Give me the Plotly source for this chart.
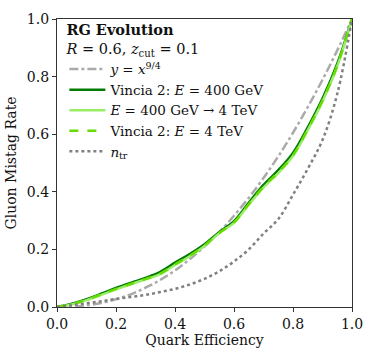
import plotly.graph_objects as go

# quark efficiency grid
eff_q = [0, 0.05, 0.1, 0.15, 0.2, 0.25, 0.3, 0.35, 0.4, 0.45, 0.5,
         0.55, 0.6, 0.65, 0.7, 0.75, 0.8, 0.85, 0.9, 0.95, 1.0]

# y = x^(9/4) reference
mistag_power = [0, 0.0012, 0.0056, 0.014, 0.027, 0.044, 0.067, 0.094, 0.127, 0.166, 0.210,
                0.260, 0.317, 0.379, 0.448, 0.523, 0.605, 0.694, 0.789, 0.891, 1.0]

# Vincia 2, E = 400 GeV
mistag_v400 = [0, 0.011, 0.027, 0.046, 0.066, 0.084, 0.101, 0.122, 0.154, 0.184, 0.218,
               0.260, 0.298, 0.362, 0.424, 0.475, 0.535, 0.624, 0.724, 0.845, 1.0]

# E = 400 GeV -> 4 TeV (RG evolution)
mistag_evol = [0, 0.009, 0.024, 0.042, 0.061, 0.079, 0.096, 0.114, 0.146, 0.176, 0.212,
               0.256, 0.292, 0.355, 0.415, 0.465, 0.524, 0.614, 0.714, 0.836, 1.0]

# Vincia 2, E = 4 TeV
mistag_v4 = [0, 0.010, 0.025, 0.044, 0.063, 0.080, 0.097, 0.116, 0.148, 0.178, 0.214,
             0.257, 0.294, 0.357, 0.418, 0.468, 0.527, 0.617, 0.717, 0.838, 1.0]

# n_tr
mistag_ntr = [0, 0.006, 0.013, 0.020, 0.028, 0.035, 0.042, 0.052, 0.063, 0.078, 0.098,
              0.124, 0.158, 0.200, 0.255, 0.305, 0.390, 0.480, 0.580, 0.740, 1.0]

fig = go.Figure()

fig.add_trace(go.Scatter(x=eff_q, y=mistag_power, mode='lines', line_shape='spline',
                         name='<i>y</i> = <i>x</i><sup>9/4</sup>',
                         line=dict(color='#aaaaaa', width=2.5, dash='dashdot')))
fig.add_trace(go.Scatter(x=eff_q, y=mistag_v400, mode='lines', line_shape='spline',
                         name='Vincia 2: <i>E</i> = 400 GeV',
                         line=dict(color='#007a00', width=2.5)))
fig.add_trace(go.Scatter(x=eff_q, y=mistag_evol, mode='lines', line_shape='spline',
                         name='<i>E</i> = 400 GeV → 4 TeV',
                         line=dict(color='#99ee66', width=2.5)))
fig.add_trace(go.Scatter(x=eff_q, y=mistag_v4, mode='lines', line_shape='spline',
                         name='Vincia 2: <i>E</i> = 4 TeV',
                         line=dict(color='#66dd00', width=2.5, dash='dash')))
fig.add_trace(go.Scatter(x=eff_q, y=mistag_ntr, mode='lines', line_shape='spline',
                         name='<i>n</i><sub>tr</sub>',
                         line=dict(color='#808080', width=2.5, dash='dot')))

axis_style = dict(range=[0, 1], dtick=0.2, tickformat='.1f', ticks='outside', ticklen=4,
                  tickcolor='#333', showline=True, linecolor='#333', linewidth=1.2,
                  mirror=True, showgrid=False, zeroline=False,
                  tickfont=dict(size=14, color='#111'))

fig.update_xaxes(title=dict(text='Quark Efficiency', font=dict(size=14, color='#111'), standoff=4),
                 **axis_style)
fig.update_yaxes(title=dict(text='Gluon Mistag Rate', font=dict(size=14, color='#111'), standoff=6),
                 **axis_style)

fig.update_layout(
    width=374, height=357,
    margin=dict(l=54, r=16, t=11, b=49),
    plot_bgcolor='white', paper_bgcolor='white',
    font=dict(family='DejaVu Serif, Liberation Serif, serif', color='#111'),
    showlegend=True,
    legend=dict(x=0.025, y=1.01, xanchor='left', yanchor='top',
                bgcolor='rgba(0,0,0,0)', font=dict(size=13.5, color='#111'), tracegroupgap=0,
                itemwidth=36,
                title=dict(text='<b>RG Evolution</b><br><i>R</i> = 0.6, <i>z</i><sub>cut</sub> = 0.1',
                           font=dict(size=14.5, color='#111'))),
)

fig.write_html("out.html", config={'displayModeBar': False},
               post_script="document.body.style.margin='0';")
